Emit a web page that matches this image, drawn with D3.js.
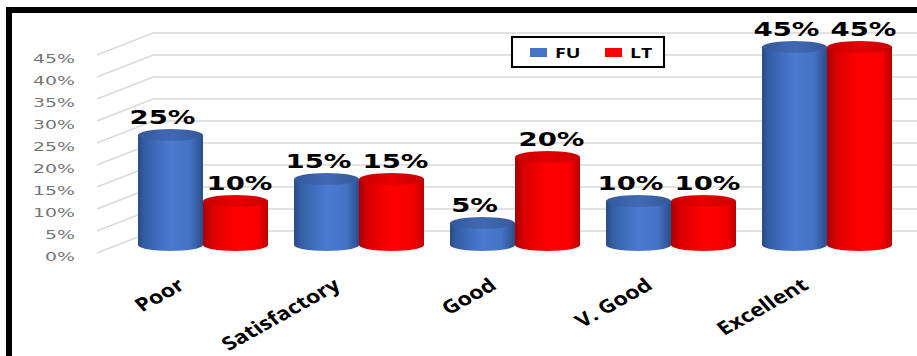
<!DOCTYPE html>
<html>
<head>
<meta charset="utf-8">
<script src="https://cdn.jsdelivr.net/npm/d3@7"></script>
<style>
  html, body { margin: 0; padding: 0; background: #fff; }
  svg { display: block; }
</style>
</head>
<body>
<div id="chart"></div>
<script>
var categories = ["Poor", "Satisfactory", "Good", "V. Good", "Excellent"];
var seriesNames = ["FU", "LT"];
var fuValues = [25, 15, 5, 10, 45];
var ltValues = [10, 15, 20, 10, 45];
var yTicks = [0, 5, 10, 15, 20, 25, 30, 35, 40, 45];

var width = 917;
var height = 356;
var SX = 1.45; // the picture is stretched sideways, so is the text
var depth = { dx: 56, dy: -22 };   // front wall -> back wall

var svg = d3.select("#chart").append("svg")
    .attr("width", width)
    .attr("height", height);

var defs = svg.append("defs");

function hGrad(id, stops) {
    var g = defs.append("linearGradient")
        .attr("id", id)
        .attr("x1", "0%").attr("x2", "100%")
        .attr("y1", "0%").attr("y2", "0%");
    stops.forEach(function (s) {
        g.append("stop").attr("offset", s[0]).attr("stop-color", s[1]);
    });
}
hGrad("bodyFU", [["0%", "#2a4b86"], ["12%", "#3560a8"], ["50%", "#4a7bd2"], ["80%", "#4472c4"], ["100%", "#2b4d8a"]]);
hGrad("bodyLT", [["0%", "#a80000"], ["15%", "#dc0000"], ["50%", "#ff0000"], ["85%", "#f60000"], ["100%", "#b80000"]]);
hGrad("topFU", [["0%", "#34589a"], ["50%", "#4169b3"], ["100%", "#34589a"]]);
hGrad("topLT", [["0%", "#c80000"], ["50%", "#e60000"], ["100%", "#c80000"]]);

// front wall scale (gridline starts) and bar plane scale
var yFront = d3.scaleLinear().domain([0, 45]).range([253, 55]);
var yBar = d3.scaleLinear().domain([0, 45]).range([245, 47]);

var x0 = d3.scaleBand().domain(categories).range([125, 905]);
var x1 = d3.scaleBand().domain(seriesNames).range([0, 130]);
var barOffset = (x0.bandwidth() - 130) / 2;
var gridLeft = 97;

// gridlines: short diagonal on the side wall, then across the back wall
var grid = svg.append("g");
yTicks.forEach(function (t) {
    var yf = yFront(t);
    grid.append("path")
        .attr("d", "M" + gridLeft + "," + yf +
            "L" + (gridLeft + depth.dx) + "," + (yf + depth.dy) +
            "L" + width + "," + (yf + depth.dy))
        .attr("fill", "none")
        .attr("stroke", "#d9d9d9")
        .attr("stroke-width", 1.4);
});

// y tick labels
svg.append("g").selectAll("text")
    .data(yTicks)
    .enter().append("text")
    .attr("transform", function (d) { return "translate(75," + (yFront(d) + 3) + ") scale(" + SX + ",1)"; })
    .attr("text-anchor", "end")
    .attr("dy", "0.35em")
    .style("font-family", "'DejaVu Sans', Verdana, sans-serif")
    .style("font-size", "13px")
    .style("fill", "#737373")
    .text(function (d) { return d + "%"; });

// cylinders
var data = [];
categories.forEach(function (c, i) {
    data.push({ cat: c, s: "FU", v: fuValues[i] });
    data.push({ cat: c, s: "LT", v: ltValues[i] });
});

var rx = x1.bandwidth() / 2;
var ry = 6;

var bars = svg.append("g").selectAll("g")
    .data(data)
    .enter().append("g");

bars.append("path")
    .attr("d", function (d) {
        var l = x0(d.cat) + barOffset + x1(d.s);
        var r = l + x1.bandwidth();
        var top = yBar(d.v), bot = yBar(0);
        return "M" + l + "," + top + "L" + l + "," + bot +
            "A" + rx + "," + ry + " 0 0 0 " + r + "," + bot +
            "L" + r + "," + top + "Z";
    })
    .attr("fill", function (d) { return "url(#body" + d.s + ")"; });

bars.append("ellipse")
    .attr("cx", function (d) { return x0(d.cat) + barOffset + x1(d.s) + rx; })
    .attr("cy", function (d) { return yBar(d.v); })
    .attr("rx", rx)
    .attr("ry", ry)
    .attr("fill", function (d) { return "url(#top" + d.s + ")"; });

// value labels
bars.append("text")
    .attr("transform", function (d) {
        var cx = x0(d.cat) + barOffset + x1(d.s) + rx + (d.s == "FU" ? -8 : 4);
        return "translate(" + cx + "," + (yBar(d.v) - 11) + ") scale(" + SX + ",1)";
    })
    .attr("text-anchor", "middle")
    .style("font-family", "'DejaVu Sans', Verdana, sans-serif")
    .style("font-weight", "bold")
    .style("font-size", "19px")
    .style("fill", "#000")
    .text(function (d) { return d.v + "%"; });

// category labels
svg.append("g").selectAll("text")
    .data(categories)
    .enter().append("text")
    .attr("transform", function (d) {
        var cx = x0(d) + x0.bandwidth() / 2 - 17;
        return "translate(" + cx + ",288) scale(1.25,1) rotate(-35)";
    })
    .attr("text-anchor", "end")
    .style("font-family", "'Open Sans', sans-serif")
    .style("font-weight", "bold")
    .style("font-size", "18.5px")
    .style("fill", "#000")
    .text(function (d) { return d; });

// legend
var legend = svg.append("g");
legend.append("rect")
    .attr("x", 512).attr("y", 37)
    .attr("width", 152).attr("height", 30)
    .attr("fill", "#fff")
    .attr("stroke", "#000")
    .attr("stroke-width", 2);

var legendColor = { FU: "#4472c4", LT: "#ff0000" };
var legendX = { FU: 530, LT: 605 };
seriesNames.forEach(function (s) {
    legend.append("rect")
        .attr("x", legendX[s]).attr("y", 48)
        .attr("width", 17).attr("height", 9)
        .attr("fill", legendColor[s]);
    legend.append("text")
        .attr("transform", "translate(" + (legendX[s] + 25) + ",58) scale(1.3,1)")
        .style("font-family", "'Open Sans', sans-serif")
        .style("font-weight", "bold")
        .style("font-size", "15px")
        .text(s);
});

// chart frame, runs off the right and bottom of the picture
svg.append("rect")
    .attr("x", 9).attr("y", 10)
    .attr("width", 1000).attr("height", 500)
    .attr("fill", "none")
    .attr("stroke", "#000")
    .attr("stroke-width", 6);
</script>
</body>
</html>
